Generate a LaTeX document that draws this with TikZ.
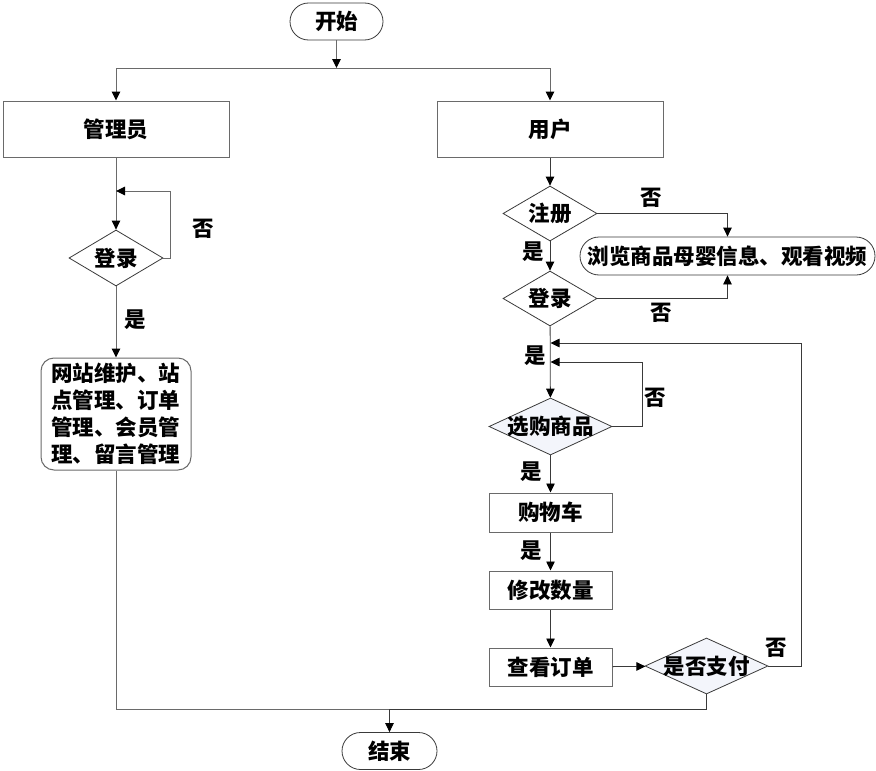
\documentclass[tikz,border=0pt]{standalone}
\usepackage{fontspec}
\newfontfamily\cjk{Noto Sans CJK SC}
\usetikzlibrary{shapes.geometric,arrows.meta}
\definecolor{lineg}{HTML}{6A6A6A}
\definecolor{lined}{HTML}{3A3A3A}
\definecolor{pale}{HTML}{F3F5FB}
\tikzset{
  x=1pt, y=-1pt,
  every node/.style={font=\cjk\bfseries\fontsize{21.5}{27}\selectfont, inner sep=0pt},
  lnA/.style={draw=lineg, line width=1pt},
  lnB/.style={draw=lined, line width=0.8pt},
  tip/.style={-{Triangle[length=9pt,width=8.5pt,color=black]}},
  arrA/.style={lnA, tip},
  arrB/.style={lnB, tip},
  boxA/.style={draw=lineg, line width=1pt, rectangle, fill=white},
  boxB/.style={draw=lineg, line width=1pt, rectangle, fill=white},
  pill/.style={draw=lined, line width=0.8pt, rectangle, fill=white},
  dia/.style={draw=lined, line width=0.8pt, diamond, fill=white},
  yn/.style={}
}
\begin{document}
\begin{tikzpicture}
\useasboundingbox (0,0) rectangle (876,771);
% nodes
\node[pill, rounded corners=18.5pt, minimum width=93pt, minimum height=37pt] (start) at (336.5,21.5) {开始};
\node[boxA, minimum width=226pt, minimum height=56pt] (admin) at (116,129) {管理员};
\node[boxA, minimum width=226pt, minimum height=56pt] (user) at (550,129) {用户};
\node[dia, minimum width=94pt, minimum height=56pt, label={center:登录}] (login1) at (116,258) {};
\node[boxA, rounded corners=13pt, minimum width=150pt, minimum height=112pt, align=left, text width=130pt] (ops) at (116,414) {网站维护、站\\点管理、订单\\管理、会员管\\理、留言管理};
\node[pill, rounded corners=18.5pt, minimum width=95pt, minimum height=37pt] (end) at (389.5,751) {结束};
\node[dia, minimum width=94pt, minimum height=55pt, label={center:注册}] (reg) at (550,213.5) {};
\node[pill, rounded corners=19pt, minimum width=295pt, minimum height=38pt] (browse) at (727.5,256) {浏览商品母婴信息、观看视频};
\node[dia, minimum width=94pt, minimum height=55pt, label={center:登录}] (login2) at (550,298.5) {};
\node[dia, fill=pale, minimum width=123pt, minimum height=57pt, label={center:选购商品}] (select) at (550.5,426.5) {};
\node[boxB, minimum width=123pt, minimum height=39pt] (cart) at (550.5,512.5) {购物车};
\node[boxB, minimum width=123pt, minimum height=38pt] (modify) at (550.5,590) {修改数量};
\node[boxB, minimum width=123pt, minimum height=38pt] (order) at (550.5,667) {查看订单};
\node[dia, fill=pale, minimum width=123pt, minimum height=56pt, label={center:是否支付}] (pay) at (706.5,666) {};
% labels
\node[yn] (n1) at (203,229) {否};
\node[yn] (y1) at (135,320) {是};
\node[yn] (n2) at (651,198) {否};
\node[yn] (y2) at (533,252) {是};
\node[yn] (n3) at (661,313) {否};
\node[yn] (y3) at (535,356) {是};
\node[yn] (n4) at (655,398) {否};
\node[yn] (y4) at (531,472) {是};
\node[yn] (y5) at (531,551) {是};
\node[yn] (n5) at (776,648) {否};
% coordinates
\coordinate (split) at (336.5,68);
\coordinate (a1) at (170,191);
\coordinate (a1e) at (116,191);
\coordinate (join) at (389.5,709);
\coordinate (b1) at (642,362);
\coordinate (b1e) at (550.5,362);
\coordinate (c1) at (801,343);
\coordinate (c1e) at (550.5,343);
% connectors
\draw[arrA] (start) -- (split);
\draw[arrA] (split) -| (admin);
\draw[arrA] (split) -| (user);
\draw[arrA] (admin) -- (login1);
\draw[lnA] (login1.east) -| (a1);
\draw[arrA] (a1) -- (a1e);
\draw[arrA] (login1) -- (ops);
\draw[lnA] (ops) |- (join);
\draw[lnB] (pay) |- (join);
\draw[arrB] (join) -- (end);
\draw[arrB] (user) -- (reg);
\draw[arrB] (reg.east) -| (browse.north);
\draw[arrB] (reg) -- (login2);
\draw[arrB] (login2.east) -| (browse.south);
\draw[arrB] (login2) -- (select);
\draw[lnB] (select.east) -| (b1);
\draw[arrB] (b1) -- (b1e);
\draw[lnB] (pay.east) -| (c1);
\draw[arrB] (c1) -- (c1e);
\draw[arrB] (select) -- (cart);
\draw[arrB] (cart) -- (modify);
\draw[arrB] (modify) -- (order);
\draw[arrB] (order) -- (pay);
\end{tikzpicture}
\end{document}
